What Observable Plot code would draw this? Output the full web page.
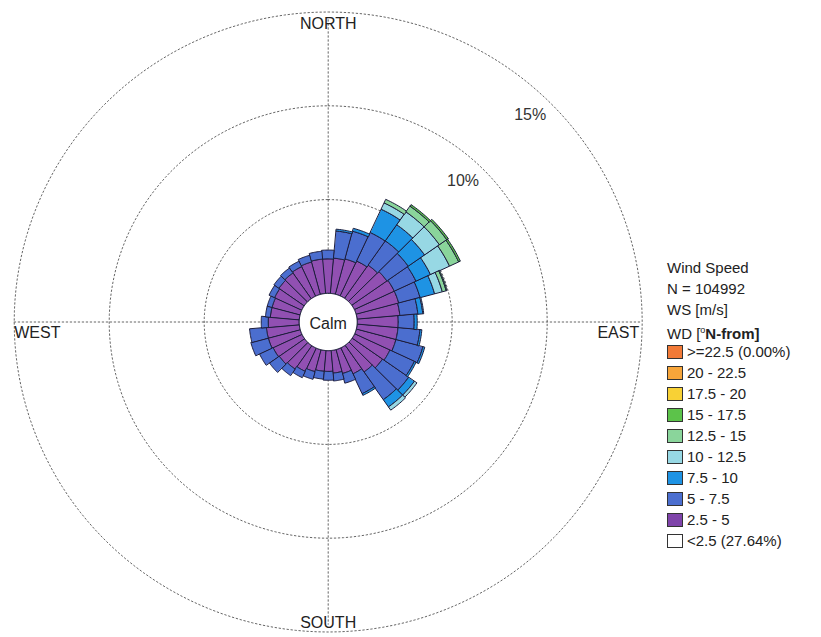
<!DOCTYPE html>
<html>
<head>
<meta charset="utf-8">
<script src="https://cdn.jsdelivr.net/npm/d3@7"></script>
<script src="https://cdn.jsdelivr.net/npm/@observablehq/plot@0.6"></script>
<style>
  body { margin: 0; background: #fff; }
  #wrap { position: relative; width: 821px; height: 637px; font-family: "Liberation Sans", Arial, sans-serif; }
  #legend { position: absolute; left: 667px; top: 257px; font-size: 15px; color: #222; }
  #legend .line { height: 21px; line-height: 21px; white-space: nowrap; }
  #legend .row { display: flex; align-items: center; height: 21px; white-space: nowrap; }
  #legend .sw { width: 16px; height: 14px; border: 1px solid #333; box-sizing: border-box; margin-right: 4px; }
</style>
</head>
<body>
<div id="wrap">
  <div id="chart"></div>
  <div id="legend"></div>
</div>
<script>
// Wind direction sectors (degrees, clockwise from north, 10° wide)
const directions = [0, 10, 20, 30, 40, 50, 60, 70, 80, 90, 100, 110, 120, 130, 140, 150, 160, 170,
                    180, 190, 200, 210, 220, 230, 240, 250, 260, 270, 280, 290, 300, 310, 320, 330, 340, 350];

// Frequency (%) of each speed class per direction sector
const freq2_5to5 = [1.84, 1.89, 1.95, 2.05, 2.16, 2.26, 2.32, 2.32, 2.26, 2.16, 2.16, 2.16, 2.05, 1.95, 1.74, 1.53, 1.32, 1.21,
                    1.11, 1.11, 1.21, 1.37, 1.53, 1.63, 1.68, 1.74, 1.74, 1.63, 1.53, 1.53, 1.58, 1.63, 1.68, 1.74, 1.79, 1.84];
const freq5to7_5 = [0.47, 1.45, 1.53, 1.68, 1.58, 1.37, 1.26, 1.16, 0.95, 0.84, 1.16, 1.47, 1.42, 1.68, 1.79, 1.16, 0.53, 0.42,
                    0.47, 0.42, 0.42, 0.37, 0.42, 0.63, 0.79, 0.95, 0.89, 0.37, 0.26, 0.26, 0.32, 0.32, 0.32, 0.32, 0.37, 0.42];
const freq7_5to10 = [0, 0.10, 0.16, 1.37, 1.05, 1.05, 0.84, 0.79, 0.26, 0.16, 0.10, 0.10, 0.10, 0.37, 0.47, 0.10, 0, 0,
                     0, 0, 0, 0, 0, 0, 0, 0, 0, 0, 0, 0, 0, 0, 0, 0, 0, 0];
const freq10to12_5 = [0, 0, 0, 0.37, 0.84, 0.95, 1.10, 0.42, 0.05, 0, 0, 0, 0, 0.16, 0.21, 0, 0, 0,
                      0, 0, 0, 0, 0, 0, 0, 0, 0, 0, 0, 0, 0, 0, 0, 0, 0, 0];
const freq12_5to15 = [0, 0, 0, 0.21, 0.37, 0.47, 0.53, 0.21, 0, 0, 0, 0, 0, 0, 0, 0, 0, 0,
                      0, 0, 0, 0, 0, 0, 0, 0, 0, 0, 0, 0, 0, 0, 0, 0, 0, 0];
const freq15to17_5 = [0, 0, 0, 0, 0.10, 0.10, 0.10, 0.05, 0, 0, 0, 0, 0, 0, 0, 0, 0, 0,
                      0, 0, 0, 0, 0, 0, 0, 0, 0, 0, 0, 0, 0, 0, 0, 0, 0, 0];

// Speed classes drawn in the rose, inner to outer
const roseClasses = ["2.5 - 5", "5 - 7.5", "7.5 - 10", "10 - 12.5", "12.5 - 15", "15 - 17.5"];
const roseValues = [freq2_5to5, freq5to7_5, freq7_5to10, freq10to12_5, freq12_5to15, freq15to17_5];
const roseColors = ["#9150b2", "#4b6ecf", "#1e93e4", "#97d8e4", "#8ad59b", "#5cc34a"];

// Legend entries, top to bottom
const legendHeader = ["Wind Speed", "N = 104992", "WS [m/s]"];
const legendLabels = [">=22.5 (0.00%)", "20 - 22.5", "17.5 - 20", "15 - 17.5", "12.5 - 15", "10 - 12.5",
                      "7.5 - 10", "5 - 7.5", "2.5 - 5", "<2.5 (27.64%)"];
const legendColors = ["#f27a37", "#f7a53a", "#f8d135", "#5cc34a", "#8ad59b", "#97d8e4",
                      "#1e93e4", "#4b6ecf", "#7f44aa", "#ffffff"];

// Radial rings (%) and compass labels
const ringLevels = [5, 10, 15];
const ringLabels = ["", "10%", "15%"];
const compassLabels = ["NORTH", "EAST", "SOUTH", "WEST"];

// Radial offset reserved for the calm circle, in % units
const calm = 29 / 19;
const outer = calm + ringLevels[ringLevels.length - 1];
const rad = (deg) => deg * Math.PI / 180;
const polar = (u, deg) => [u * Math.sin(rad(deg)), u * Math.cos(rad(deg))];

// Build sector polygons
const sectors = [];
directions.forEach((dir, i) => {
  let base = calm;
  roseValues.forEach((vals, j) => {
    const f = vals[i];
    if (!(f > 0)) return;
    const top = base + f;
    const key = dir + "-" + j;
    for (let a = dir - 5; a <= dir + 5 + 1e-9; a += 1) {
      const [x, y] = polar(top, a);
      sectors.push({key, cls: roseClasses[j], x, y});
    }
    for (let a = dir + 5; a >= dir - 5 - 1e-9; a -= 1) {
      const [x, y] = polar(base, a);
      sectors.push({key, cls: roseClasses[j], x, y});
    }
    base = top;
  });
});

function circlePoints(u, key) {
  const pts = [];
  for (let a = 0; a < 360; a += 2) {
    const [x, y] = polar(u, a);
    pts.push({key, x, y});
  }
  return pts;
}
const rings = ringLevels.flatMap((lv) => circlePoints(calm + lv, "r" + lv));
const calmCircle = circlePoints(calm, "calm");

const axisLines = [
  {key: "ns", x: 0, y: outer * 0.975}, {key: "ns", x: 0, y: -outer * 0.975},
  {key: "ew", x: -outer, y: 0}, {key: "ew", x: outer, y: 0}
];

const ringText = ringLevels.map((lv, i) => {
  const [x, y] = polar(calm + lv, 45);
  return {x, y, label: ringLabels[i]};
}).filter((d) => d.label);

const gridStyle = {stroke: "#555", strokeWidth: 0.9, strokeDasharray: "1.5,2.5"};

const cx = 327.7, cy = 321.5, rx = 314, ry = 310;

const chart = Plot.plot({
  width: 821,
  height: 637,
  margin: 0,
  x: {domain: [-outer, outer], range: [cx - rx, cx + rx], axis: null},
  y: {domain: [-outer, outer], range: [cy + ry, cy - ry], axis: null},
  style: {background: "#fff", fontFamily: "\"Liberation Sans\", Arial, sans-serif"},
  marks: [
    Plot.line(rings, {x: "x", y: "y", z: "key", curve: "linear-closed", ...gridStyle}),
    Plot.line(axisLines, {x: "x", y: "y", z: "key", ...gridStyle}),
    ...roseClasses.map((c, j) =>
      Plot.line(sectors.filter((d) => d.cls === c), {
        x: "x", y: "y", z: "key", curve: "linear-closed",
        fill: roseColors[j], stroke: "#1d1d3c", strokeWidth: 1
      })
    ),
    Plot.line(calmCircle, {x: "x", y: "y", z: "key", curve: "linear-closed", fill: "#fff", stroke: "#1d1d3c", strokeWidth: 1}),
    Plot.text(["Calm"], {x: 0, y: 0, text: (d) => d, fontSize: 16, fill: "#222", dy: 2}),
    Plot.text(ringText, {x: "x", y: "y", text: "label", textAnchor: "end", lineAnchor: "top", dx: -4, dy: 6, fontSize: 16, fill: "#333"}),
    Plot.text([compassLabels[0]], {x: 0, y: outer, text: (d) => d, lineAnchor: "top", dy: 6, fontSize: 16, fill: "#222"}),
    Plot.text([compassLabels[2]], {x: 0, y: -outer, text: (d) => d, lineAnchor: "bottom", dy: -4, fontSize: 16, fill: "#222"}),
    Plot.text([compassLabels[3]], {x: -outer, y: 0, text: (d) => d, textAnchor: "start", lineAnchor: "top", dx: 0, dy: 5, fontSize: 16, fill: "#222"}),
    Plot.text([compassLabels[1]], {x: outer, y: 0, text: (d) => d, textAnchor: "end", lineAnchor: "top", dx: -3, dy: 5, fontSize: 16, fill: "#222"})
  ]
});
document.getElementById("chart").appendChild(chart);

// Legend
const legend = document.getElementById("legend");
legendHeader.forEach((t) => {
  const div = document.createElement("div");
  div.className = "line";
  div.textContent = t;
  legend.appendChild(div);
});
const wd = document.createElement("div");
wd.className = "line";
wd.innerHTML = "WD [<sup style=\"font-size:9px\">o</sup><b>N-from]</b>";
legend.appendChild(wd);
legendLabels.forEach((t, i) => {
  const row = document.createElement("div");
  row.className = "row";
  const sw = document.createElement("div");
  sw.className = "sw";
  sw.style.background = legendColors[i];
  const span = document.createElement("span");
  span.textContent = t;
  row.appendChild(sw);
  row.appendChild(span);
  legend.appendChild(row);
});
</script>
</body>
</html>
